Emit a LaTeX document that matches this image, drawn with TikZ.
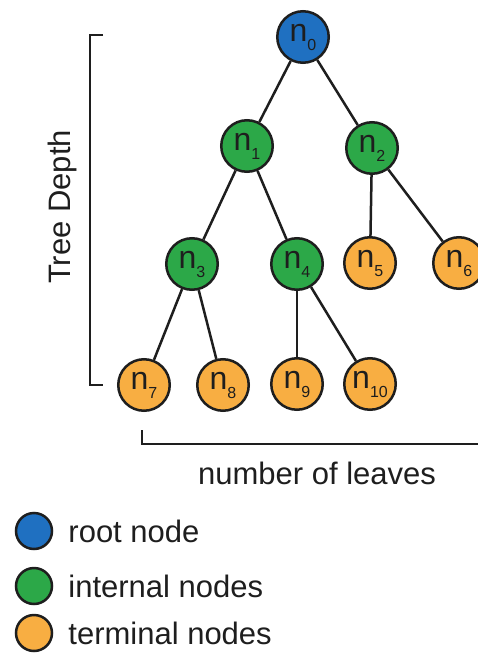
\documentclass[tikz,border=0pt]{standalone}
\usepackage{fontspec}
\setmainfont{Liberation Sans}
\usetikzlibrary{positioning}

\definecolor{RootBlue}{RGB}{31,112,193}
\definecolor{InnerGreen}{RGB}{44,168,72}
\definecolor{LeafOrange}{RGB}{248,174,66}
\definecolor{Ink}{RGB}{30,30,30}

% node label n with a lowered index
\newcommand{\nsub}[1]{n\raisebox{-9pt}{\fontsize{16}{16}\selectfont #1}}

\begin{document}
\begin{tikzpicture}[x=10pt,y=-10pt]
		\tikzstyle{Vertex} 	= [circle, draw=Ink, line width=2.5pt, minimum size=51.5pt, inner sep=0pt, text=Ink, font=\fontsize{32}{36}\selectfont]
		\tikzstyle{Root}	= [fill=RootBlue]
		\tikzstyle{Inner}	= [fill=InnerGreen]
		\tikzstyle{Leaf}	= [fill=LeafOrange]
		\tikzstyle{Key}		= [circle, draw=Ink, line width=2.5pt, minimum size=36pt, inner sep=0pt]
		\tikzstyle{Label}	= [text=Ink, inner sep=0pt, font=\fontsize{31}{36}\selectfont]
		\tikzstyle{Edge}	= [line width=2.5pt, Ink]
		\tikzstyle{Bracket}	= [line width=2pt, Ink]

		\useasboundingbox (0,0) rectangle (47.8,66.0);

		% the tree
		\node (n0) at (30.3, 3.7) [Vertex][Root] {\nsub{0}};
		\node (n1) at (24.7,14.6) [Vertex][Inner] {\nsub{1}};
		\node (n2) at (37.2,14.8) [Vertex][Inner] {\nsub{2}};
		\node (n3) at (19.2,26.4) [Vertex][Inner] {\nsub{3}};
		\node (n4) at (29.7,26.4) [Vertex][Inner] {\nsub{4}};
		\node (n5) at (37.0,26.3) [Vertex][Leaf] {\nsub{5}};
		\node (n6) at (45.9,26.3) [Vertex][Leaf] {\nsub{6}};
		\node (n7) at (14.4,38.5) [Vertex][Leaf] {\nsub{7}};
		\node (n8) at (22.3,38.5) [Vertex][Leaf] {\nsub{8}};
		\node (n9) at (29.7,38.4) [Vertex][Leaf] {\nsub{9}};
		\node (n10) at (37.0,38.4) [Vertex][Leaf] {\nsub{10}};

		\draw [-] (n0) to (n1) [Edge];
		\draw [-] (n0) to (n2) [Edge];
		\draw [-] (n1) to (n3) [Edge];
		\draw [-] (n1) to (n4) [Edge];
		\draw [-] (n2) to (n5) [Edge];
		\draw [-] (n2) to (n6) [Edge];
		\draw [-] (n3) to (n7) [Edge];
		\draw [-] (n3) to (n8) [Edge];
		\draw [-] (n4) to (n9) [Edge];
		\draw [-] (n4) to (n10) [Edge];

		% depth bracket
		\coordinate (dt1) at (10.3, 3.5);
		\coordinate (dt0) at (9.0, 3.5);
		\coordinate (db0) at (9.0,38.5);
		\coordinate (db1) at (10.3,38.5);
		\draw (dt1) -- (dt0) -- (db0) -- (db1) [Bracket];
		\node (depth) at (6.2,20.7) [Label, rotate=90] {Tree Depth};

		% leaves bracket
		\coordinate (lt) at (14.2,43.0);
		\coordinate (l0) at (14.2,44.4);
		\coordinate (l1) at (49.0,44.4);
		\draw (lt) -- (l0) -- (l1) [Bracket];
		\node (leaves) at (31.7,47.3) [Label] {number of leaves};

		% legend
		\node (kroot) at (3.4,53.1) [Key][Root] {};
		\node (kinner) at (3.4,58.6) [Key][Inner] {};
		\node (kleaf) at (3.4,63.3) [Key][Leaf] {};
		\node (troot) [Label, anchor=west, right=1.5 of kroot] {root node};
		\node (tinner) [Label, anchor=west, right=1.5 of kinner] {internal nodes};
		\node (tleaf) [Label, anchor=west, right=1.5 of kleaf] {terminal nodes};
\end{tikzpicture}
\end{document}
